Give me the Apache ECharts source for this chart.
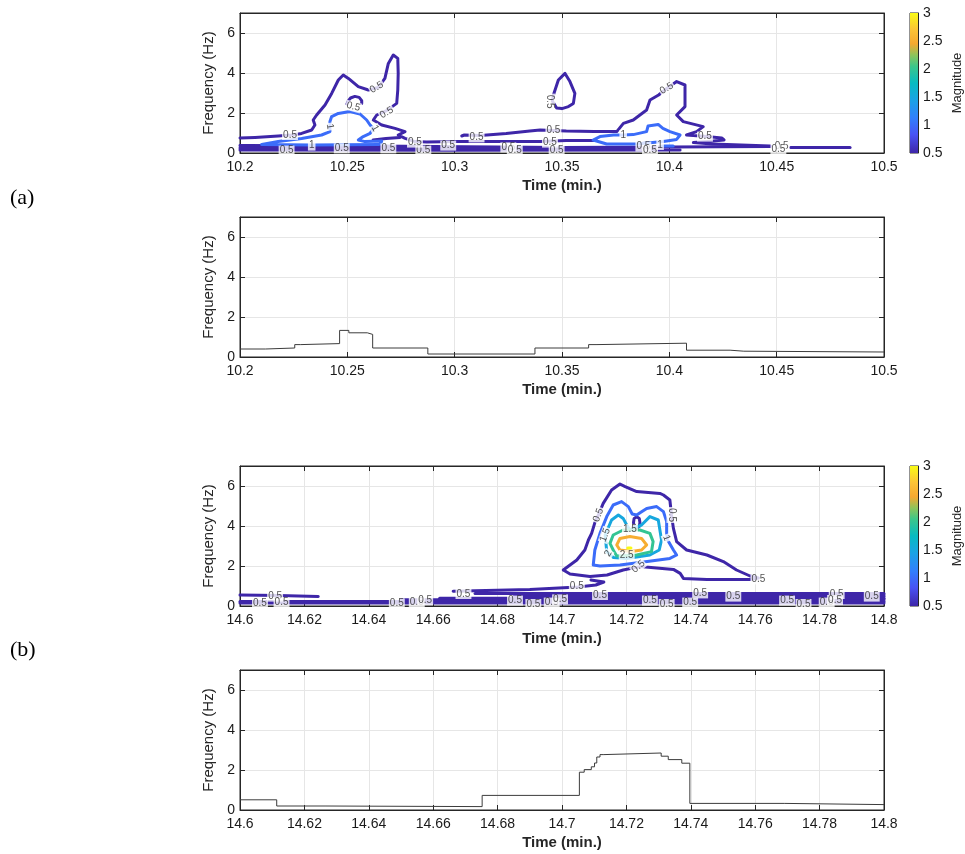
<!DOCTYPE html>
<html><head><meta charset="utf-8">
<script src="https://cdn.jsdelivr.net/npm/echarts@6/dist/echarts.min.js"></script>
<style>html,body{margin:0;padding:0;background:#fff}#c{width:965px;height:854px}</style>
</head><body><div id="c"></div>
<script>
// ---------------- DATA ----------------
const timeTicksA = ['10.2','10.25','10.3','10.35','10.4','10.45','10.5'];
const timeTicksB = ['14.6','14.62','14.64','14.66','14.68','14.7','14.72','14.74','14.76','14.78','14.8'];
const freqTicks = ['0','2','4','6'];
const magTicks = ['0.5','1','1.5','2','2.5','3'];
const magRange = [0.5, 3];

// (a) contour lines [time, freq]
const a05_main = [[10.2,0.75],[10.207,0.78],[10.2178,0.85],[10.2241,0.9],[10.2287,0.98],[10.2334,1.15],[10.2349,1.4],[10.2341,1.65],[10.2357,1.9],[10.2396,2.4],[10.2427,2.98],[10.2458,3.65],[10.2481,3.9],[10.2505,3.73],[10.2551,3.32],[10.2598,3.15],[10.2644,3.28],[10.2675,3.73],[10.2691,4.48],[10.2714,4.9],[10.2735,4.73],[10.2737,3.98],[10.2735,3.15],[10.273,2.48],[10.2683,2.12],[10.2637,1.9],[10.2621,1.65],[10.266,1.4],[10.2722,1.23],[10.2769,1.07],[10.2737,0.9],[10.2769,0.73],[10.2815,0.57],[10.287,0.55],[10.30,0.57],[10.34,0.57],[10.352,0.62],[10.366,0.63]];
const a05_wiggle = [[10.262,0.65],[10.268,0.72],[10.2745,0.78]];
const a05_small = [[10.2498,2.45],[10.2505,2.62],[10.2515,2.75],[10.2535,2.83],[10.2555,2.78],[10.2567,2.62],[10.2567,2.48]];
const a05_peak = [[10.350,2.22],[10.3475,2.25],[10.3455,2.6],[10.346,2.9],[10.3483,3.65],[10.3514,3.98],[10.3537,3.57],[10.356,2.98],[10.3553,2.48],[10.353,2.32],[10.350,2.22]];
const a05_right = [[10.3033,0.85],[10.3045,0.9],[10.312,0.88],[10.324,0.98],[10.335,1.1],[10.3398,1.15],[10.346,1.13],[10.352,1.1],[10.365,1.08],[10.3755,1.07],[10.3786,1.48],[10.3832,1.65],[10.3894,2.15],[10.391,2.65],[10.395,2.9],[10.3988,3.23],[10.4034,3.57],[10.4073,3.4],[10.4073,2.32],[10.4034,1.9],[10.4065,1.57],[10.4158,1.32],[10.4127,1.07],[10.408,0.9],[10.4174,0.82],[10.4244,0.75],[10.4255,0.65],[10.418,0.58],[10.4112,0.52],[10.42,0.45],[10.447,0.35]];
const a05_band1 = [[10.2,0.38],[10.25,0.36],[10.29,0.32],[10.35,0.28],[10.40,0.3],[10.447,0.32]];
const a05_band2 = [[10.2,0.15],[10.3,0.14],[10.405,0.15]];
const a05_band3 = [[10.2,0.25],[10.33,0.22],[10.385,0.22]];
const a05_band4 = [[10.4565,0.28],[10.4842,0.28]];
const a10_left = [[10.2101,0.42],[10.2178,0.57],[10.2287,0.73],[10.238,0.9],[10.2419,1.07],[10.2419,1.32],[10.2419,1.57],[10.2427,1.82],[10.2458,1.98],[10.2512,2.07],[10.2559,1.95],[10.259,1.65],[10.2606,1.4],[10.2621,1.23],[10.2606,0.98],[10.2574,0.82],[10.2551,0.65],[10.2582,0.57],[10.266,0.6],[10.2655,0.45],[10.2644,0.42],[10.2334,0.4],[10.2101,0.42]];
const a10_right = [[10.374,0.9],[10.3786,0.9],[10.3832,0.92],[10.3894,1.07],[10.3901,1.35],[10.3948,1.43],[10.397,1.23],[10.4003,1.07],[10.405,0.9],[10.4034,0.68],[10.3972,0.57],[10.3848,0.45],[10.3708,0.45],[10.3645,0.65],[10.3677,0.82],[10.374,0.9]];
const a10_small = [[10.3965,0.35],[10.4018,0.35]];
const aContours = [[0.5,a05_main],[0.5,a05_wiggle],[0.5,a05_small],[0.5,a05_peak],[0.5,a05_right],[0.5,a05_band1],[0.5,a05_band2],[0.5,a05_band3],[0.5,a05_band4],[1,a10_left],[1,a10_right],[1,a10_small]];
// contour labels [time, freq, text, angle]
const aLabels = [[10.2233,0.9,'0.5',0],[10.2217,0.12,'0.5',0],[10.2474,0.23,'0.5',0],[10.2691,0.23,'0.5',0],[10.2854,0.12,'0.5',0],[10.2815,0.52,'0.5',0],[10.297,0.37,'0.5',0],[10.3102,0.78,'0.5',0],[10.325,0.28,'0.5',0],[10.328,0.15,'0.5',0],[10.3444,0.52,'0.5',0],[10.3475,0.12,'0.5',0],[10.346,1.15,'0.5',0],[10.3879,0.32,'0.5',0],[10.391,0.15,'0.5',0],[10.4166,0.82,'0.5',0],[10.3988,3.23,'0.5',30],[10.4523,0.32,'0.5',0],[10.4508,0.18,'0.5',0],[10.2683,2.02,'0.5',30],[10.2637,3.28,'0.5',30],[10.2528,2.32,'0.5',-15],[10.3444,2.57,'0.5',-90],[10.2334,0.37,'1',0],[10.2419,1.32,'1',-80],[10.2629,1.23,'1',-60],[10.3785,0.9,'1',0],[10.3957,0.4,'1',0]];

// (a) ridge frequency steps [start time, freq]
const aRidge = [[10.2,0.40],[10.2118,0.45],[10.2255,0.62],[10.2283,0.67],[10.2464,1.33],[10.2507,1.21],[10.2593,1.13],[10.2618,0.45],[10.2875,0.15],[10.3374,0.45],[10.3624,0.62],[10.3663,0.69],[10.408,0.34],[10.4283,0.29],[10.4347,0.25],[10.5,0.25]];

// (b) contour lines
const b05_outer = [[14.7004,1.8],[14.7046,2.3],[14.7071,2.8],[14.7082,3.3],[14.7092,3.63],[14.7103,4.22],[14.7113,4.55],[14.7128,5.13],[14.7154,5.8],[14.718,6.1],[14.7196,5.97],[14.7232,5.72],[14.7304,5.63],[14.7315,5.55],[14.7335,5.3],[14.734,4.55],[14.7346,3.88],[14.7356,3.22],[14.7387,2.8],[14.745,2.55],[14.7501,2.22],[14.7542,1.8],[14.7584,1.5],[14.761,1.4],[14.7584,1.32],[14.745,1.33],[14.7377,1.38],[14.7367,1.63],[14.7346,1.83],[14.7242,1.97],[14.719,1.8],[14.714,1.55],[14.7087,1.47],[14.7025,1.6],[14.7004,1.8]];
const b05_loop = [[14.7232,4.46],[14.724,4.38],[14.7242,4.18],[14.724,3.98],[14.7232,3.9],[14.7224,3.98],[14.7222,4.18],[14.7224,4.38],[14.7232,4.46]];
const b05_upper = [[14.6662,0.74],[14.69,0.82],[14.705,0.95],[14.7105,1.05],[14.713,1.2],[14.709,1.3]];
const b05_left = [[14.6,0.55],[14.612,0.52],[14.6243,0.48]];
const b05_band1 = [[14.6,0.15],[14.8,0.15]];
const b05_band2 = [[14.6,0.23],[14.8,0.23]];
const b05_band3 = [[14.65,0.31],[14.8,0.31]];
const b05_band4 = [[14.662,0.39],[14.8,0.39]];
const b05_band5 = [[14.685,0.47],[14.8,0.47]];
const b05_band6 = [[14.695,0.55],[14.8,0.55]];
const b05_band7 = [[14.673,0.62],[14.8,0.62]];
const b10 = [[14.7097,2.05],[14.7102,2.8],[14.7118,3.63],[14.7139,4.47],[14.7159,5.05],[14.7185,5.22],[14.7206,4.97],[14.7218,4.6],[14.7232,4.55],[14.7246,4.7],[14.7263,4.88],[14.7294,4.97],[14.7315,4.72],[14.7325,4.22],[14.7325,3.63],[14.7328,3.3],[14.7346,2.8],[14.7356,2.55],[14.7335,2.38],[14.7253,2.2],[14.718,2.05],[14.7118,2.0],[14.7097,2.05]];
const b15 = [[14.7139,2.72],[14.7134,3.55],[14.7154,4.3],[14.7175,4.55],[14.719,4.38],[14.7201,4.05],[14.7211,3.8],[14.7247,4.05],[14.7273,4.47],[14.7299,4.3],[14.7304,3.8],[14.7309,3.3],[14.7302,2.8],[14.7273,2.55],[14.7201,2.38],[14.7159,2.43],[14.7139,2.72]];
const b20 = [[14.7159,2.8],[14.7149,3.13],[14.7159,3.55],[14.719,3.8],[14.7242,3.8],[14.7273,3.63],[14.7283,3.22],[14.7278,2.72],[14.7232,2.55],[14.717,2.5],[14.7159,2.8]];
const b25 = [[14.717,3.05],[14.718,3.38],[14.7211,3.47],[14.7247,3.38],[14.7263,3.05],[14.7247,2.8],[14.7216,2.72],[14.718,2.8],[14.717,3.05]];
const b30 = [[14.7204,2.9],[14.7214,2.9]];
const bContours = [[0.5,b05_outer],[0.5,b05_loop],[0.5,b05_upper],[0.5,b05_left],[0.5,b05_band1],[0.5,b05_band2],[0.5,b05_band3],[0.5,b05_band4],[0.5,b05_band5],[0.5,b05_band6],[0.5,b05_band7],[1,b10],[1.5,b15],[2,b20],[2.5,b25],[3,b30]];
const bLabels = [[14.7113,4.55,'0.5',70],[14.734,4.55,'0.5',-90],[14.761,1.33,'0.5',0],[14.7237,1.97,'0.5',40],[14.6062,0.13,'0.5',0],[14.6109,0.47,'0.5',0],[14.6129,0.17,'0.5',0],[14.6487,0.13,'0.5',0],[14.6549,0.17,'0.5',0],[14.6575,0.3,'0.5',0],[14.6694,0.6,'0.5',0],[14.6854,0.27,'0.5',0],[14.6911,0.1,'0.5',0],[14.6968,0.17,'0.5',0],[14.6994,0.33,'0.5',0],[14.7046,0.97,'0.5',0],[14.7118,0.55,'0.5',0],[14.7273,0.27,'0.5',0],[14.7325,0.1,'0.5',0],[14.7398,0.17,'0.5',0],[14.7429,0.63,'0.5',0],[14.7532,0.47,'0.5',0],[14.7699,0.27,'0.5',0],[14.775,0.1,'0.5',0],[14.7822,0.17,'0.5',0],[14.7853,0.6,'0.5',0],[14.7962,0.47,'0.5',0],[14.7848,0.3,'0.5',0],[14.7325,3.4,'1',-70],[14.7134,3.55,'1.5',70],[14.7211,3.85,'1.5',0],[14.7144,2.63,'2',60],[14.7201,2.55,'2.5',0]];

// (b) ridge frequency steps
const bRidge = [[14.6,0.51],[14.6114,0.20],[14.6267,0.17],[14.6752,0.73],[14.7054,1.89],[14.7069,2.02],[14.7091,2.16],[14.7101,2.35],[14.7108,2.65],[14.7118,2.77],[14.713,2.85],[14.7308,2.69],[14.733,2.52],[14.7372,2.34],[14.7397,0.33],[14.769,0.27],[14.8,0.27]];

// ---------------- STYLE / LAYOUT ----------------
const FONT = 'Arial, "Liberation Sans", Helvetica, sans-serif';
const INK = '#262626';
const parula = [[0,'#3e26a8'],[0.13,'#4852f4'],[0.25,'#317ffc'],[0.38,'#1aa3e4'],[0.5,'#07bbc1'],[0.62,'#3cc68a'],[0.7,'#8ec45a'],[0.78,'#f6a830'],[0.88,'#fcc336'],[1,'#f9fb15']];
function hex(c){return [parseInt(c.slice(1,3),16),parseInt(c.slice(3,5),16),parseInt(c.slice(5,7),16)];}
function levelColor(v){
  const t = Math.max(0, Math.min(1, (v-magRange[0])/(magRange[1]-magRange[0])));
  for(let i=0;i<parula.length-1;i++){
    const [t0,c0]=parula[i],[t1,c1]=parula[i+1];
    if(t<=t1){const f=(t-t0)/(t1-t0),a=hex(c0),b=hex(c1);
      return 'rgb('+a.map((x,k)=>Math.round(x+(b[k]-x)*f)).join(',')+')';}
  }
  return parula[parula.length-1][1];
}
const panels = [
  {top:13, ticks:timeTicksA, min:10.2, max:10.5, step:0.05},
  {top:217, ticks:timeTicksA, min:10.2, max:10.5, step:0.05},
  {top:466, ticks:timeTicksB, min:14.6, max:14.8, step:0.02},
  {top:670, ticks:timeTicksB, min:14.6, max:14.8, step:0.02}
];
const tickFont = {color:'#1a1a1a', fontSize:14, fontFamily:FONT};
const grids=[], xAxes=[], yAxes=[], series=[];
panels.forEach((p,i)=>{
  grids.push({left:240, top:p.top, width:644, height:140, show:true, borderColor:INK, borderWidth:1, backgroundColor:'#fff'});
  xAxes.push({gridIndex:i, type:'value', min:p.min, max:p.max, interval:p.step,
    axisLine:{show:true,onZero:false,lineStyle:{color:INK}}, axisTick:{show:true,inside:true,length:5,lineStyle:{color:INK}},
    axisLabel:Object.assign({margin:7, formatter:v=>p.ticks[Math.round((v-p.min)/p.step)]||''}, tickFont),
    splitLine:{show:true,lineStyle:{color:'#e6e6e6'}},
    name:'Time (min.)', nameLocation:'middle', nameGap:25, nameTextStyle:{color:INK, fontSize:15, fontWeight:'bold', fontFamily:FONT}});
  xAxes.push({gridIndex:i, type:'value', position:'top', min:p.min, max:p.max, interval:p.step,
    axisLine:{show:true,onZero:false,lineStyle:{color:INK}}, axisTick:{show:true,inside:true,length:5,lineStyle:{color:INK}},
    axisLabel:{show:false}, splitLine:{show:false}});
  yAxes.push({gridIndex:i, type:'value', min:0, max:7, interval:2,
    axisLine:{show:true,onZero:false,lineStyle:{color:INK}}, axisTick:{show:true,inside:true,length:5,lineStyle:{color:INK}},
    axisLabel:Object.assign({margin:5, formatter:v=>(v%2===0 && freqTicks[v/2])||''}, tickFont),
    splitLine:{show:true,lineStyle:{color:'#e6e6e6'}},
    name:'Frequency (Hz)', nameLocation:'middle', nameGap:21, nameRotate:90, nameTextStyle:{color:INK, fontSize:15, fontFamily:FONT}});
  yAxes.push({gridIndex:i, type:'value', position:'right', min:0, max:7, interval:2,
    axisLine:{show:true,onZero:false,lineStyle:{color:INK}}, axisTick:{show:true,inside:true,length:5,lineStyle:{color:INK}},
    axisLabel:{show:false}, splitLine:{show:false}});
});
// colorbars
[13,466].forEach((top,k)=>{
  const gi = grids.length;
  grids.push({left:910, top:top, width:9, height:140, show:true, borderColor:INK, borderWidth:1});
  xAxes.push({gridIndex:gi, type:'category', data:['m'], show:false});
  yAxes.push({gridIndex:gi, type:'value', position:'right', min:magRange[0], max:magRange[1], interval:0.5,
    axisLine:{show:true,lineStyle:{color:INK}}, axisTick:{show:false},
    axisLabel:Object.assign({margin:5, formatter:v=>magTicks[Math.round((v-magRange[0])/0.5)]||''}, tickFont),
    splitLine:{show:false},
    name:'Magnitude', nameLocation:'middle', nameGap:33, nameRotate:90, nameTextStyle:{color:INK, fontSize:13, fontFamily:FONT}});
  const stops = parula.map(([o,c])=>({offset:1-o, color:c})).reverse();
  series.push({type:'bar', xAxisIndex:xAxes.length-1, yAxisIndex:yAxes.length-1, stack:'cb'+k, barWidth:'100%', silent:true,
    data:[magRange[0]], itemStyle:{color:'rgba(0,0,0,0)'}});
  series.push({type:'bar', xAxisIndex:xAxes.length-1, yAxisIndex:yAxes.length-1, stack:'cb'+k, barWidth:'100%', silent:true,
    data:[magRange[1]-magRange[0]], itemStyle:{color:new echarts.graphic.LinearGradient(0,0,0,1,stops)}});
});
function addContours(list, panel){
  list.forEach(([lv,pts])=>{
    series.push({type:'line', xAxisIndex:panel*2, yAxisIndex:panel*2, data:pts, showSymbol:false, symbol:'none', silent:true,
      lineStyle:{color:levelColor(lv), width:3, cap:'round', join:'round'}, z:2, clip:true});
  });
}
function addLabels(list, panel){
  series.push({type:'scatter', xAxisIndex:panel*2, yAxisIndex:panel*2, symbolSize:1, silent:true, z:5,
    itemStyle:{color:'rgba(0,0,0,0)'},
    data:list.map(([t,f,txt,ang])=>({value:[t,f], name:txt, label:{rotate:ang}})),
    label:{show:true, position:'inside', formatter:'{b}', fontSize:10, fontFamily:FONT, color:INK, backgroundColor:'#fff', padding:[0,1,0,1], lineHeight:10}});
}
function addRidge(pts, panel){
  series.push({type:'line', xAxisIndex:panel*2, yAxisIndex:panel*2, data:pts, step:'end', showSymbol:false, symbol:'none', silent:true,
    lineStyle:{color:'#3c3c3c', width:1}, z:3});
}
addContours(aContours, 0); addLabels(aLabels, 0);
addRidge(aRidge, 1);
addContours(bContours, 2); addLabels(bLabels, 2);
addRidge(bRidge, 3);

const chart = echarts.init(document.getElementById('c'), null, {renderer:'canvas'});
chart.setOption({
  animation:false, backgroundColor:'#fff',
  grid:grids, xAxis:xAxes, yAxis:yAxes, series:series,
  graphic:[
    {type:'text', left:10, top:187, style:{text:'(a)', font:'22px "Liberation Serif", "Times New Roman", serif', fill:'#000'}},
    {type:'text', left:10, top:639, style:{text:'(b)', font:'22px "Liberation Serif", "Times New Roman", serif', fill:'#000'}}
  ]
});
</script></body></html>
